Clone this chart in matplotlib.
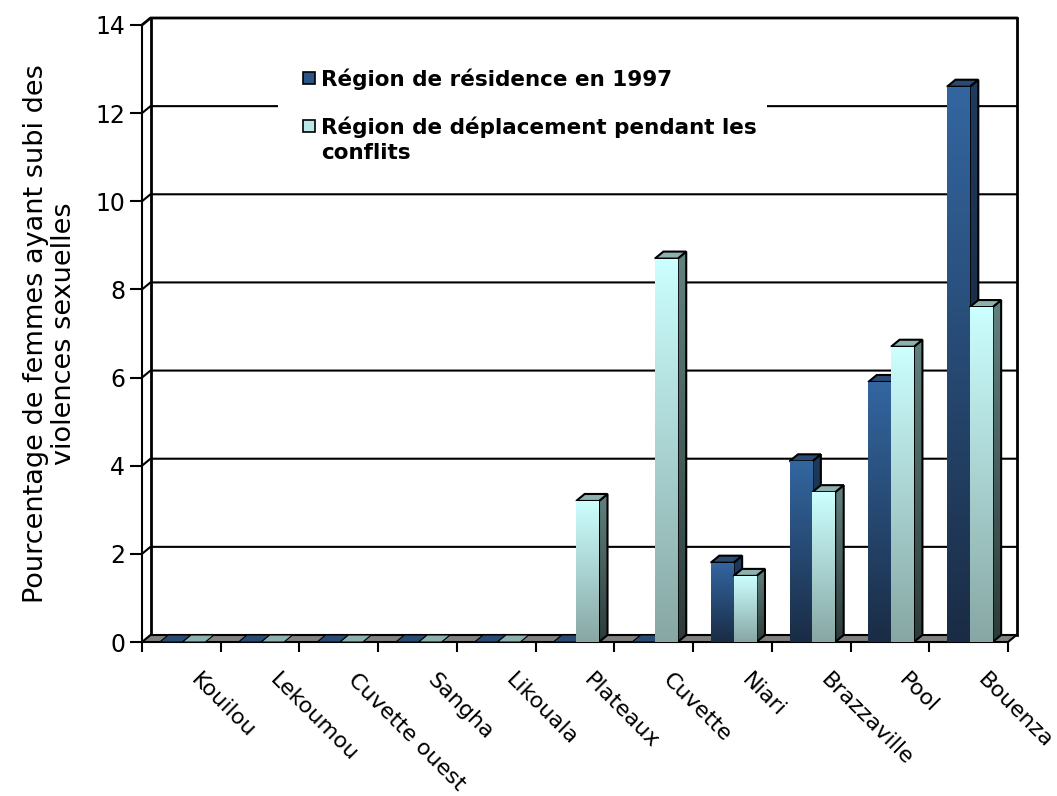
import numpy as np
import matplotlib
matplotlib.use("Agg")
import matplotlib.pyplot as plt
from matplotlib.patches import Polygon, Rectangle
from matplotlib.colors import LinearSegmentedColormap

# ------------------------------------------------------data
regions = ["Kouilou", "Lekoumou", "Cuvette ouest", "Sangha", "Likouala",
           "Plateaux", "Cuvette", "Niari", "Brazzaville", "Pool", "Bouenza"]
residence = [0, 0, 0, 0, 0, 0, 0, 1.8, 4.1, 5.9, 12.6]
deplacement = [0, 0, 0, 0, 0, 3.2, 8.7, 1.5, 3.4, 6.7, 7.6]
y_ticks = [0, 2, 4, 6, 8, 10, 12, 14]
series_names = ["Région de résidence en 1997",
                "Région de déplacement pendant les\nconflits"]

# ------------------------------------------------------styles
W, H = 1057, 796
ax_left, ax_right, ax_bottom, ax_top = 142, 1008, 642, 25   # pixel frame
n = len(regions)
ymax = y_ticks[-1]
px_x = (ax_right - ax_left) / n
px_y = (ax_bottom - ax_top) / ymax
dx = 8.5 / px_x      # depth of the 3d effect in data units
dy = 7.0 / px_y
bar_off, bar_w = 0.225, 0.29

styles = [
    dict(front=("#1a2c45", "#3366a0"), side=("#0f1d2e", "#1f3b5e"), top="#2a4b73", legend="#2b5586"),
    dict(front=("#87a7a4", "#ccffff"), side=("#2c3b39", "#62827f"), top="#8db1ae", legend="#b8e8e8"),
]

fig = plt.figure(figsize=(W / 100, H / 100), dpi=100)
ax = fig.add_axes([ax_left / W, (H - ax_bottom) / H,
                   (ax_right - ax_left) / W, (ax_bottom - ax_top) / H])
ax.set_xlim(0, n)
ax.set_ylim(0, ymax)
ax.set_autoscale_on(False)
for s in ["top", "right", "bottom"]:
    ax.spines[s].set_visible(False)
ax.spines["left"].set_linewidth(1.5)

# ------------------------------------------------------walls and grid
ax.plot([dx, dx], [dy, ymax + dy], color="black", lw=2, zorder=1, clip_on=False)
ax.plot([n + dx, n + dx], [dy, ymax + dy], color="black", lw=2, zorder=1, clip_on=False)
for v in y_ticks[1:]:
    ax.plot([0, dx, n + dx], [v, v + dy, v + dy], color="black",
            lw=2 if v == ymax else 1.5, zorder=1, clip_on=False)

floor = Polygon([(0, 0), (n, 0), (n + dx, dy), (dx, dy)], closed=True,
                facecolor="#808080", edgecolor="black", lw=1.5, zorder=2, clip_on=False)
ax.add_patch(floor)

grad = np.linspace(0, 1, 128).reshape(-1, 1)


def gradient_patch(patch, extent, colors, z):
    ax.add_patch(patch)
    cmap = LinearSegmentedColormap.from_list("g", list(colors))
    im = ax.imshow(grad, extent=extent, origin="lower", cmap=cmap, aspect="auto",
                   interpolation="bilinear", zorder=z)
    im.set_clip_path(patch)
    edge = Polygon(patch.get_xy() if isinstance(patch, Polygon) else patch.get_verts(),
                   closed=True, fill=False, edgecolor="black", lw=1.5, zorder=z + 0.01,
                   clip_on=False)
    ax.add_patch(edge)


# ------------------------------------------------------bars
z = 3
for i in range(n):
    for s, values in enumerate([residence, deplacement]):
        h = values[i]
        x0 = i + bar_off + s * bar_w
        st = styles[s]
        # side face
        if h > 0:
            side = Polygon([(x0 + bar_w, 0), (x0 + bar_w + dx, dy),
                            (x0 + bar_w + dx, h + dy), (x0 + bar_w, h)],
                           closed=True, facecolor="none", edgecolor="none", clip_on=False)
            gradient_patch(side, (x0 + bar_w, x0 + bar_w + dx, 0, h + dy), st["side"], z)
        # top face
        top = Polygon([(x0, h), (x0 + bar_w, h), (x0 + bar_w + dx, h + dy), (x0 + dx, h + dy)],
                      closed=True, facecolor=st["top"], edgecolor="black",
                      lw=1.5 if h > 0 else 0.8, zorder=z + 0.1, clip_on=False)
        ax.add_patch(top)
        # front face
        if h > 0:
            front = Rectangle((x0, 0), bar_w, h, facecolor="none", edgecolor="none")
            gradient_patch(front, (x0, x0 + bar_w, 0, h), st["front"], z + 0.2)
        z += 1

# ------------------------------------------------------axes, ticks, labels
ax.set_yticks(y_ticks)
ax.set_yticklabels([str(v) for v in y_ticks], fontsize=17)
ax.tick_params(axis="y", direction="out", length=9, width=1.5, pad=3)
ax.set_xticks(range(n + 1))
ax.set_xticklabels([])
ax.tick_params(axis="x", direction="out", length=7.5, width=1.5)
for i, name in enumerate(regions):
    ax.text(i + 0.66, -0.8, name, rotation=-45, rotation_mode="anchor",
            ha="left", va="center", fontsize=16, clip_on=False)

ax.set_ylabel("Pourcentage de femmes ayant subi des\nviolences sexuelles",
              fontsize=19.5, labelpad=13, linespacing=1.12)

# ------------------------------------------------------legend (drawn by hand, Excel style)
legend_box = Rectangle((278 / W, 1 - 190 / H), (767 - 278) / W, (190 - 45) / H,
                       transform=fig.transFigure, facecolor="white", edgecolor="none",
                       zorder=5)
fig.add_artist(legend_box)
for k, (name, st) in enumerate(zip(series_names, styles)):
    yc = [78, 126][k]
    sq = Rectangle((303 / W, 1 - (yc + 6) / H), 12 / W, 12 / H, transform=fig.transFigure,
                   facecolor=st["legend"], edgecolor="black", lw=1.2, zorder=6)
    fig.add_artist(sq)
    fig.text(321 / W, 1 - (yc - 9) / H, name, fontsize=15.5, fontweight="bold",
             ha="left", va="top", linespacing=1.3, zorder=7)

fig.savefig("out.png", dpi=100)
